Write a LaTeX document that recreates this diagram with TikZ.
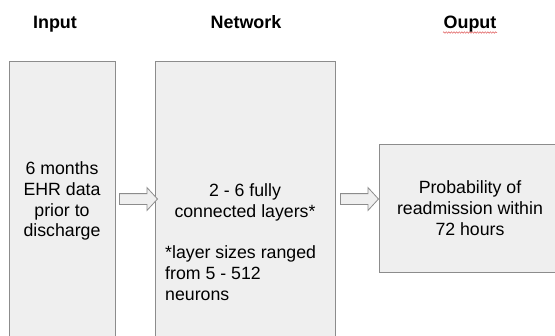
\documentclass[tikz,border=0pt]{standalone}
\usepackage{fontspec}
\setmainfont{Liberation Sans}
\usetikzlibrary{shapes.arrows,decorations.pathmorphing}
\definecolor{boxfill}{HTML}{EFEFEF}
\definecolor{boxline}{HTML}{8C8C8C}
\definecolor{spellred}{HTML}{E06060}
\begin{document}
\begin{tikzpicture}[x=1bp,y=-1bp,
  panel/.style={draw=boxline, fill=boxfill, line width=0.9bp, anchor=north west, inner sep=0pt},
  title/.style={font=\fontsize{18}{21}\selectfont\bfseries, anchor=base, inner sep=0pt},
  body/.style={font=\fontsize{17.8}{21}\selectfont, inner sep=0pt},
  blockarrow/.style={single arrow, draw=boxline, fill=boxfill, line width=0.8bp,
    inner xsep=0pt, inner ysep=5bp, text height=0pt, text depth=0pt,
    minimum height=38bp, single arrow head extend=6bp,
    single arrow tip angle=95}]
\useasboundingbox (0,0) rectangle (555,335);
\clip (0,0) rectangle (555,335);
\node[title] (tin) at (55,28.5) {Input};
\node[title] (tnet) at (246,28.5) {Network};
\node[title] (tout) at (470,28.5) {Ouput};
\draw[spellred, line width=0.5bp, decorate, decoration={zigzag, amplitude=0.8bp, segment length=2.6bp}]
  (443,32.5) -- (497,32.5);
\node[panel, minimum width=105.5bp, minimum height=300bp] (in) at (9,61) {};
\node[panel, minimum width=179.5bp, minimum height=300bp] (net) at (155,61) {};
\node[panel, minimum width=184bp, minimum height=128bp] (out) at (379,144) {};
\node[blockarrow] (a1) at (136,199) {};
\node[blockarrow] (a2) at (357,199) {};
\node[body, align=center] (intext) at (62,201) {6 months\\EHR data\\prior to\\discharge};
\node[body, align=center] (nettext) at (245,202.5) {2 - 6 fully\\connected layers*};
\node[body, align=left, anchor=west] (netnote) at (165,273.5) {*layer sizes ranged\\from 5 - 512\\neurons};
\node[body, align=center] (outtext) at (470,208.5) {Probability of\\readmission within\\72 hours};
\end{tikzpicture}
\end{document}
